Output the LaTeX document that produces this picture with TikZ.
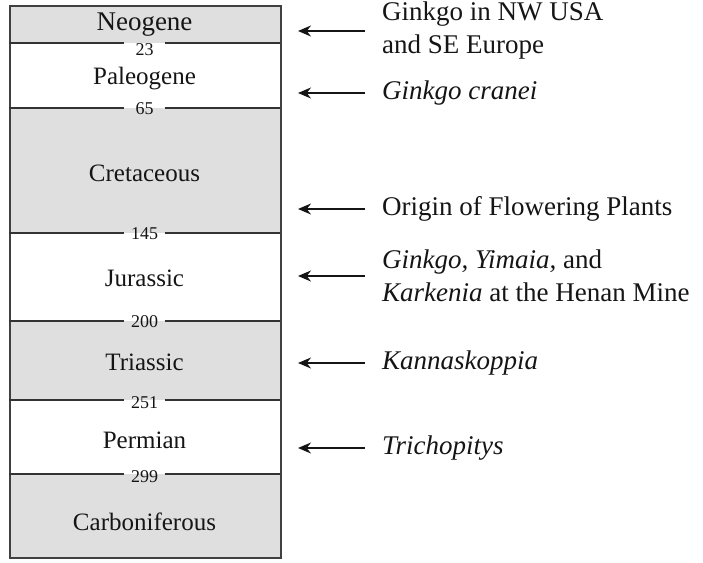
\documentclass[tikz,border=0pt]{standalone}
\usepackage{fontspec}
\setmainfont{Liberation Serif}
\usetikzlibrary{positioning,arrows.meta}
\definecolor{bandgray}{HTML}{DFDFDF}
\definecolor{ink}{HTML}{151515}

\begin{document}
\begin{tikzpicture}[
    x=1pt, y=-1pt,
    >={Stealth[length=13pt,width=11pt]},
    band/.style={fill=bandgray},
    period/.style={text=ink, font=\fontsize{25}{30}\selectfont},
    age/.style={text=ink, font=\fontsize{18}{20}\selectfont, minimum width=40pt, inner sep=0pt},
    bound/.style={line width=1.4pt, draw=black!80},
    event/.style={anchor=west, align=left, inner sep=0pt, text=ink, font=\fontsize{27}{33}\selectfont},
    marker/.style={->, line width=1.4pt, draw=ink},
  ]
  \useasboundingbox (0,0) rectangle (703,562);

  % shaded periods
  \fill[band] (9,5) rectangle (280,43);
  \fill[band] (9,108) rectangle (280,233);
  \fill[band] (9,321) rectangle (280,400);
  \fill[band] (9,474) rectangle (280,557);

  \node[draw=black!75, line width=1.5pt, minimum width=271pt, minimum height=552pt,
        anchor=north west, inner sep=0pt] (col) at (9,5) {};

  \node[period, font=\fontsize{27}{30}\selectfont] (neo) at (144.5,25) {Neogene};
  \node[period] (paleo) at (144.5,79) {Paleogene};
  \node[period] (creta) at (144.5,173) {Cretaceous};
  \node[period] (jura) at (144.5,278) {Jurassic};
  \node[period] (trias) at (144.5,362) {Triassic};
  \node[period] (perm) at (144.5,440) {Permian};
  \node[period] (carb) at (144.5,522) {Carboniferous};

  % boundaries with ages (Ma)
  \foreach \y/\lab/\dy in {43/23/7, 108/65/1, 233/145/1, 321/200/1, 400/251/3, 474/299/3}{
    \coordinate (l\lab) at (9,\y);
    \coordinate (r\lab) at (280,\y);
    \node[age] (a\lab) at (144.5,\y+\dy) {\lab};
    \draw[bound] (l\lab) -- (a\lab.west |- l\lab);
    \draw[bound] (a\lab.east |- r\lab) -- (r\lab);
  }

  \node[event] (nwusa) at (382,31) {Ginkgo in NW USA\\and SE Europe};
  \node[event] (cranei) at (382,93) {\textit{Ginkgo cranei}};
  \node[event] (flower) at (382,209) {Origin of Flowering Plants};
  \node[event] (henan) at (382,276) {\textit{Ginkgo, Yimaia,} and\\\textit{Karkenia} at the Henan Mine};
  \node[event] (kanna) at (382,363) {\textit{Kannaskoppia}};
  \node[event] (tricho) at (382,448) {\textit{Trichopitys}};

  \coordinate (tipline) at (298,0);
  \foreach \e in {nwusa,cranei,flower,henan,kanna,tricho}
    \draw[marker] ([xshift=-17pt]\e.west) -- (\e.west -| tipline);
\end{tikzpicture}
\end{document}
